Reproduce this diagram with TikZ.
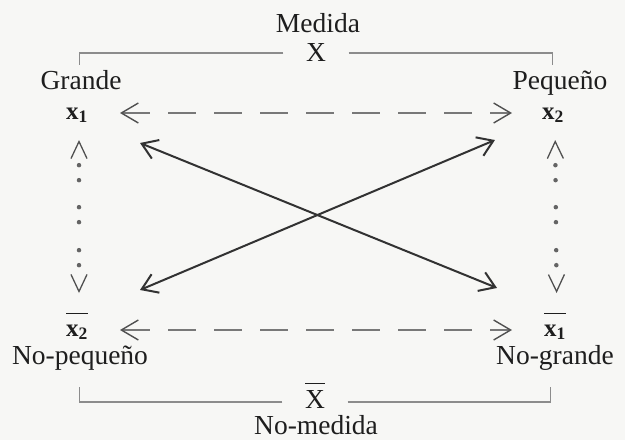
\documentclass[tikz,border=0pt]{standalone}
\usepackage{fontspec}
\setmainfont{Liberation Serif}
\usetikzlibrary{arrows.meta}
\definecolor{bg}{RGB}{247,247,245}
\definecolor{ink}{RGB}{30,30,30}
\definecolor{dashc}{RGB}{120,120,120}
\definecolor{dotc}{RGB}{100,100,100}
\definecolor{tipc}{RGB}{80,80,80}
\definecolor{brk}{RGB}{140,140,140}
\definecolor{diagc}{RGB}{50,50,50}
\tikzset{
  lbl/.style={anchor=base, inner sep=0pt, font=\fontsize{27.5}{32}\selectfont, text=ink},
  xl/.style={anchor=base, inner sep=0pt, font=\fontsize{25}{30}\selectfont, text=ink},
  bracket/.style={draw=brk, line width=1.1pt},
  hdash/.style={draw=dashc, line width=1.3pt, dash pattern=on 28pt off 18pt,
    {Straight Barb[length=17pt,width=20pt,line width=1.4pt 0,color=tipc]}-{Straight Barb[length=17pt,width=20pt,line width=1.4pt 0,color=tipc]}},
  vdot/.style={draw=dotc, line width=4.5pt, line cap=round,
    dash pattern=on 0pt off 23.5pt on 0pt off 15pt on 0pt off 27pt on 0pt off 15pt on 0pt off 28pt on 0pt off 15pt on 0pt off 300pt,
    dash phase=0.5pt,
    {Straight Barb[length=17pt,width=16pt,line width=1.3pt 0,color=tipc]}-{Straight Barb[length=17pt,width=16pt,line width=1.3pt 0,color=tipc]}},
  diag/.style={draw=diagc, line width=2pt,
    {Straight Barb[length=15pt,width=20pt]}-{Straight Barb[length=15pt,width=20pt]}}
}
\begin{document}
\begin{tikzpicture}[x=1pt,y=-1pt]
\fill[bg] (0,0) rectangle (625,440);
\useasboundingbox (0,0) rectangle (625,440);
% labels
\node[lbl] (med) at (318,32) {Medida};
\node[lbl, minimum width=65pt] (Xt) at (316,61) {X};
\node[lbl] (gr) at (81,89) {Grande};
\node[lbl] (pq) at (560,89) {Pequeño};
\node[xl] (x1) at (77,119) {\textbf{x}$_{\mathbf{1}}$};
\node[xl] (x2) at (553,119) {\textbf{x}$_{\mathbf{2}}$};
\node[xl] (xb2) at (77,336) {$\overline{\rule{0pt}{21pt}\textbf{x}_{\mathbf{2}}}$};
\node[xl] (xb1) at (555,336) {$\overline{\rule{0pt}{21pt}\textbf{x}_{\mathbf{1}}}$};
\node[lbl] (npq) at (80,364) {No-pequeño};
\node[lbl] (ngr) at (555,364) {No-grande};
\node[lbl, minimum width=65pt] (Xb) at (315,408) {$\overline{\rule{0pt}{23pt}\mbox{X}}$};
\node[lbl] (nmed) at (316,434.5) {No-medida};
% brackets
\draw[bracket] ([yshift=8pt]Xt.base west) -- ++(-203.5,0) -- ++(0,12);
\draw[bracket] ([yshift=8pt]Xt.base east) -- ++(203.5,0) -- ++(0,12);
\draw[bracket] ([yshift=6pt]Xb.base west) -- ++(-202.5,0) -- ++(0,-15);
\draw[bracket] ([yshift=6pt]Xb.base east) -- ++(202.5,0) -- ++(0,-15);
% horizontal dashed
\draw[hdash, shorten <=43pt, shorten >=41pt] ([yshift=6pt]x1.base) -- ([yshift=6pt]x2.base);
\draw[hdash, shorten <=43pt, shorten >=43pt] ([yshift=6pt]xb2.base) -- ([yshift=6pt]xb1.base);
% vertical dotted
\draw[vdot, shorten <=21pt, shorten >=43pt] ([xshift=2pt]x1.base) -- ([xshift=2pt]xb2.base);
\draw[vdot, shorten <=21pt, shorten >=43pt] ([xshift=2pt]x2.base) -- ([xshift=2pt]xb1.base);
% diagonals
\draw[diag, shorten <=68pt, shorten >=62.6pt] ([yshift=1.6pt]x1.base) -- ([yshift=24.5pt]xb1.base);
\draw[diag, shorten <=68.4pt, shorten >=63pt] ([yshift=19.4pt]xb2.base) -- ([yshift=3.5pt]x2.base);
\end{tikzpicture}
\end{document}
